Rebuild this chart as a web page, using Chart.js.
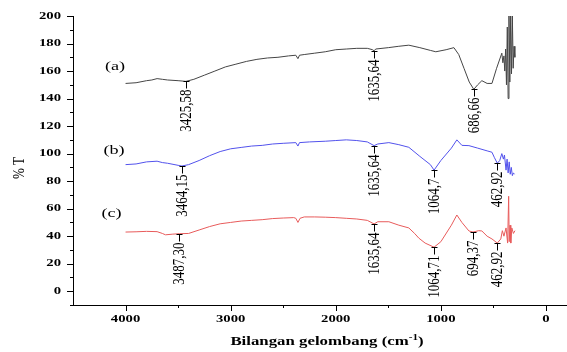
<!DOCTYPE html>
<html>
<head>
<meta charset="utf-8">
<script src="https://cdn.jsdelivr.net/npm/chart.js@4.4.0/dist/chart.umd.min.js"></script>
<style>
  html, body { margin: 0; padding: 0; background: #fff; }
  #wrap { width: 567px; height: 352px; }
</style>
</head>
<body>
<div id="wrap"><canvas id="ftirChart" width="567" height="352"></canvas></div>
<script>
// Spectrum (a)
const wnA = [4000, 3900, 3800, 3750, 3700, 3650, 3600, 3500, 3425.58, 3350, 3250, 3150, 3050, 2950, 2850, 2750, 2650, 2550, 2450, 2380, 2360, 2345, 2300, 2200, 2100, 2000, 1900, 1800, 1700, 1650, 1635.64, 1620, 1500, 1400, 1305, 1200, 1100, 1048, 950, 876, 830, 780, 730, 686.66, 650, 610, 560, 514, 470, 420, 410, 400, 392, 384, 376, 368, 360, 352, 344, 336, 328, 320, 312, 304, 296];
const tA = [151, 151.5, 153, 153.5, 154.5, 154, 153.5, 153, 152.5, 154, 157, 160, 163, 165, 167, 168.5, 169.5, 170, 171, 171.5, 169, 171.5, 172, 173, 174, 175.5, 176, 176.5, 176.5, 175.5, 174.7, 176, 177, 178, 178.8, 177, 175, 174, 175.5, 177, 172, 162, 152, 146.7, 150, 153, 151, 151, 162, 173, 166, 171, 160, 176, 150, 192, 140, 200, 152, 200, 158, 200, 162, 178, 170];

// Spectrum (b)
const wnB = [4000, 3900, 3800, 3700, 3650, 3600, 3500, 3464.15, 3400, 3300, 3200, 3100, 3000, 2900, 2800, 2700, 2600, 2500, 2380, 2360, 2345, 2250, 2100, 2000, 1900, 1800, 1700, 1635.64, 1600, 1495, 1400, 1305, 1200, 1100, 1064.7, 1000, 900, 848, 800, 733, 650, 560, 514, 490, 462.92, 440, 420, 405, 395, 380, 370, 360, 350, 340, 330, 320, 310, 300];
const tB = [92, 92.5, 94, 94.5, 93.5, 93, 91.5, 91, 92, 95, 98.5, 101.5, 103.5, 104.5, 105.5, 106, 107, 107.5, 108, 105.5, 108, 108.5, 109, 109.5, 110, 109.5, 108.5, 105.8, 107, 108, 106.5, 104.6, 98, 92, 88, 95, 104, 110, 106, 105.8, 104, 102, 101, 97, 93, 95, 100, 96, 99, 88, 96, 86, 94, 85, 90, 84, 86, 85];

// Spectrum (c)
const wnC = [4000, 3900, 3800, 3700, 3650, 3620, 3550, 3487.3, 3400, 3300, 3200, 3100, 3000, 2900, 2800, 2700, 2600, 2500, 2400, 2380, 2360, 2340, 2300, 2200, 2100, 2000, 1900, 1800, 1700, 1635.64, 1600, 1495, 1400, 1305, 1250, 1210, 1150, 1064.71, 1000, 900, 848, 800, 733, 694.37, 640, 610, 560, 514, 462.92, 430, 415, 400, 380, 365, 355, 350, 342, 335, 325, 310, 295];
const tC = [43, 43.2, 43.5, 43.3, 42, 41, 41.5, 41.8, 42, 44.5, 47, 49, 50, 51, 51.5, 52, 52.8, 53.2, 53.5, 53, 50, 53, 54, 54, 53.8, 53.5, 53, 52.5, 51.5, 48.9, 50.5, 50.5, 48, 46, 42, 38.6, 35, 32, 36, 48, 55.4, 50, 43.8, 43, 44, 43.8, 40, 38, 35, 38, 44, 40, 46, 35, 69, 36, 48, 35, 46, 42, 44];

// Peak labels
const peakWnA = [3425.58, 1635.64, 686.66];
const peakTA = [152.5, 174.7, 146.7];
const peakTextA = ['3425,58', '1635,64', '686,66'];
const peakWnB = [3464.15, 1635.64, 1064.7, 462.92];
const peakTB = [91, 105.8, 88, 93];
const peakTextB = ['3464,15', '1635,64', '1064,7', '462,92'];
const peakWnC = [3487.3, 1635.64, 1064.71, 694.37, 462.92];
const peakTC = [41.8, 48.9, 32, 43, 35];
const peakTextC = ['3487,30', '1635,64', '1064,71', '694,37', '462,92'];

const seriesNames = ['(a)', '(b)', '(c)'];

// Axis ticks
const xMajor = [4000, 3000, 2000, 1000, 0];
const xMinor = [3500, 2500, 1500, 500];
const yMajor = [0, 20, 40, 60, 80, 100, 120, 140, 160, 180, 200];
const yMinor = [-10, 10, 30, 50, 70, 90, 110, 130, 150, 170, 190];

const SERIF = '"Liberation Serif", "Times New Roman", serif';
const SX = 1.4; // the source picture is stretched horizontally

function toPoints(xs, ys) {
  return xs.map((x, i) => ({ x: x, y: ys[i] }));
}

// draw text with horizontal stretch, optional rotation
function drawText(ctx, text, x, y, opts) {
  ctx.save();
  ctx.translate(x, y);
  ctx.scale(opts.sx || SX, 1);
  if (opts.rotate) ctx.rotate(opts.rotate);
  ctx.font = opts.font;
  ctx.fillStyle = '#000';
  ctx.textAlign = opts.align || 'center';
  ctx.textBaseline = opts.baseline || 'middle';
  ctx.fillText(text, 0, 0);
  ctx.restore();
}

const decorPlugin = {
  id: 'decor',
  afterDraw(chart) {
    const ctx = chart.ctx;
    const xs = chart.scales.x;
    const ys = chart.scales.y;
    const area = chart.chartArea;

    // axis ticks
    ctx.save();
    ctx.strokeStyle = '#000';
    ctx.lineWidth = 1;
    ctx.beginPath();
    yMajor.forEach(v => {
      const p = Math.round(ys.getPixelForValue(v)) + 0.5;
      ctx.moveTo(area.left - 6, p); ctx.lineTo(area.left, p);
    });
    yMinor.forEach(v => {
      const p = Math.round(ys.getPixelForValue(v)) + 0.5;
      ctx.moveTo(area.left - 3, p); ctx.lineTo(area.left, p);
    });
    xMajor.forEach(v => {
      const p = Math.round(xs.getPixelForValue(v)) + 0.5;
      ctx.moveTo(p, area.bottom); ctx.lineTo(p, area.bottom + 6);
    });
    xMinor.forEach(v => {
      const p = Math.round(xs.getPixelForValue(v)) + 0.5;
      ctx.moveTo(p, area.bottom); ctx.lineTo(p, area.bottom + 3);
    });
    ctx.stroke();
    ctx.restore();

    // tick labels
    const tickFont = 'bold 10.5px ' + SERIF;
    yMajor.forEach(v => {
      drawText(ctx, String(v), area.left - 12, ys.getPixelForValue(v), { font: tickFont, align: 'right' });
    });
    xMajor.forEach(v => {
      drawText(ctx, String(v), xs.getPixelForValue(v), area.bottom + 14, { font: tickFont });
    });

    // peak markers
    const groups = [
      [peakWnA, peakTA, peakTextA],
      [peakWnB, peakTB, peakTextB],
      [peakWnC, peakTC, peakTextC]
    ];
    ctx.save();
    ctx.strokeStyle = '#000';
    ctx.lineWidth = 1;
    groups.forEach(([wns, ts, texts]) => {
      wns.forEach((w, i) => {
        const px = Math.round(xs.getPixelForValue(w)) + 0.5;
        const py = Math.round(ys.getPixelForValue(ts[i])) + 0.5;
        ctx.beginPath();
        ctx.moveTo(px - 3, py); ctx.lineTo(px + 3, py);
        ctx.moveTo(px, py); ctx.lineTo(px, py + 7);
        ctx.stroke();
        drawText(ctx, texts[i], px, py + 8, {
          font: '13px ' + SERIF, sx: 1.25, rotate: -Math.PI / 2, align: 'right'
        });
      });
    });
    ctx.restore();

    // series names
    const namePos = [[4100, 163], [4110, 102.4], [4133, 56.3]];
    seriesNames.forEach((n, i) => {
      drawText(ctx, n, xs.getPixelForValue(namePos[i][0]), ys.getPixelForValue(namePos[i][1]), {
        font: '13px ' + SERIF
      });
    });

    // y title
    drawText(ctx, '% T', 20, area.top + 152, {
      font: '13px ' + SERIF, sx: 1.3, rotate: -Math.PI / 2
    });

    // x title with superscript
    const mainFont = 'bold 12px ' + SERIF;
    const supFont = 'bold 8px ' + SERIF;
    ctx.save();
    ctx.font = mainFont;
    const w1 = ctx.measureText('Bilangan gelombang (cm').width;
    const w3 = ctx.measureText(')').width;
    ctx.font = supFont;
    const w2 = ctx.measureText('-1').width;
    ctx.restore();
    const total = (w1 + w2 + w3) * SX;
    const cx = 327;
    const ty = area.bottom + 40;
    let x0 = cx - total / 2;
    drawText(ctx, 'Bilangan gelombang (cm', x0, ty, { font: mainFont, align: 'left', baseline: 'alphabetic' });
    x0 += w1 * SX;
    drawText(ctx, '-1', x0, ty - 5, { font: supFont, align: 'left', baseline: 'alphabetic' });
    x0 += w2 * SX;
    drawText(ctx, ')', x0, ty, { font: mainFont, align: 'left', baseline: 'alphabetic' });
  }
};

const ctx = document.getElementById('ftirChart').getContext('2d');
new Chart(ctx, {
  type: 'line',
  data: {
    datasets: [
      { label: seriesNames[0], data: toPoints(wnA, tA), borderColor: '#454545', borderWidth: 1, pointRadius: 0, tension: 0 },
      { label: seriesNames[1], data: toPoints(wnB, tB), borderColor: '#5252ec', borderWidth: 1, pointRadius: 0, tension: 0 },
      { label: seriesNames[2], data: toPoints(wnC, tC), borderColor: '#e85b5b', borderWidth: 1, pointRadius: 0, tension: 0 }
    ]
  },
  options: {
    responsive: false,
    animation: false,
    devicePixelRatio: 1,
    layout: { padding: { top: 16, right: 0, left: 0, bottom: 0 } },
    plugins: {
      legend: { display: false },
      tooltip: { enabled: false }
    },
    scales: {
      x: {
        type: 'linear',
        reverse: true,
        min: -200,
        max: 4500,
        grid: { display: false },
        border: { display: true, color: '#000', width: 1 },
        ticks: { display: false },
        afterFit(scale) {
          scale.height = 47;
          scale.paddingLeft = 0;
          scale.paddingRight = 0;
        }
      },
      y: {
        min: -10,
        max: 200,
        grid: { display: false },
        border: { display: true, color: '#000', width: 1 },
        ticks: { display: false },
        afterFit(scale) {
          scale.width = 73;
          scale.paddingTop = 0;
          scale.paddingBottom = 0;
        }
      }
    }
  },
  plugins: [decorPlugin]
});
</script>
</body>
</html>
